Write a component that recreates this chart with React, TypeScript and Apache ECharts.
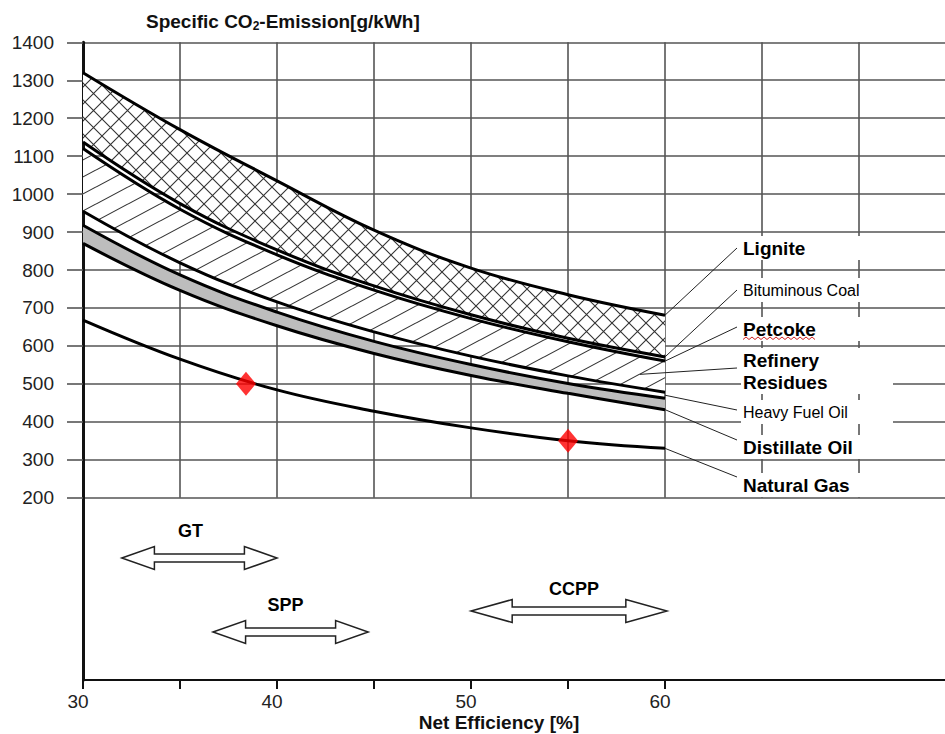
import React, { useEffect, useRef } from "react";
import * as echarts from "echarts";

// ---------- data ----------
const efficiency = [30, 35, 40, 45, 50, 55, 60];
const ligniteTop = [1320, 1170, 1035, 905, 805, 735, 681];
const coalTop = [1137, 975, 853, 758, 682, 620, 571];
const coalBottom = [1120, 960, 840, 747, 672, 611, 560];
const residueBottom = [955, 819, 716, 637, 573, 521, 478];
const oilTop = [918, 787, 689, 612, 551, 501, 462];
const oilBottom = [870, 746, 653, 580, 522, 475, 432];
const naturalGas = [668, 565, 484, 428, 384, 350, 330];

const markerEfficiency = [38.4, 55];
const markerEmission = [500, 350];

const xLabelValues = [30, 40, 50, 60];
const xTickValues = [30, 35, 40, 45, 50, 55, 60];

const fuelNames = [
  "Lignite",
  "Bituminous Coal",
  "Petcoke",
  "Refinery\nResidues",
  "Heavy Fuel Oil",
  "Distillate Oil",
  "Natural Gas",
];
const fuelPointEfficiency = [60, 60, 60, 58.7, 60, 60, 60];
const fuelPointEmission = [681, 571, 560, 525, 470, 432, 330];

const plantNames = ["GT", "SPP", "CCPP"];
const plantFrom = [32, 36.7, 50];
const plantTo = [40, 44.7, 60.1];

// ---------- layout / style ----------
const FONT = '"Liberation Sans", Arial, Helvetica, sans-serif';
const GRID_COLOR = "#555";
const SMOOTH = 0.4;
const fuelLabelLayout = [
  { y: 248, leadY: 248, bold: true },
  { y: 290, leadY: 290, bold: false },
  { y: 329, leadY: 327, bold: true },
  { y: 371, leadY: 368, bold: true },
  { y: 412, leadY: 410, bold: false },
  { y: 447, leadY: 440, bold: true },
  { y: 485, leadY: 477, bold: true },
];
const plantLayout = [
  { dy: 60.3, ldx: -9, ldy: -27 },
  { dy: 134.3, ldx: -5, ldy: -27 },
  { dy: 113.3, ldx: 5, ldy: -22 },
];

const pairs = (ys: number[]) => efficiency.map((x, i) => [x, ys[i]]);
// stacked series keep the emission in dimension 0 so that ECharts stacks along y
const swapped = (ys: number[]) => efficiency.map((x, i) => [ys[i], x]);
const swappedDiff = (a: number[], b: number[]) => efficiency.map((x, i) => [a[i] - b[i], x]);

function crossHatch() {
  const s = 17;
  const c = document.createElement("canvas");
  c.width = s;
  c.height = s;
  const ctx = c.getContext("2d")!;
  ctx.fillStyle = "#fff";
  ctx.fillRect(0, 0, s, s);
  ctx.strokeStyle = "#333";
  ctx.lineWidth = 1.1;
  ctx.beginPath();
  ctx.moveTo(-2, -2);
  ctx.lineTo(s + 2, s + 2);
  ctx.moveTo(s + 2, -2);
  ctx.lineTo(-2, s + 2);
  ctx.stroke();
  return { image: c, repeat: "repeat", imageWidth: s, imageHeight: s };
}

function diagHatch() {
  const w = 32;
  const h = 17;
  const c = document.createElement("canvas");
  c.width = w;
  c.height = h;
  const ctx = c.getContext("2d")!;
  ctx.fillStyle = "#fff";
  ctx.fillRect(0, 0, w, h);
  ctx.strokeStyle = "#333";
  ctx.lineWidth = 1.1;
  ctx.beginPath();
  const k = h / w;
  for (const off of [-h, 0, h]) {
    ctx.moveTo(-4, h + 4 * k + off);
    ctx.lineTo(w + 4, -4 * k + off);
  }
  ctx.stroke();
  return { image: c, repeat: "repeat", imageWidth: w, imageHeight: h };
}

const curveLine = (name: string, ys: number[]) => ({
  name,
  type: "line",
  xAxisIndex: 0,
  yAxisIndex: 0,
  data: pairs(ys),
  smooth: SMOOTH,
  showSymbol: false,
  symbol: "none",
  z: 4,
  lineStyle: { color: "#000", width: 3 },
  silent: true,
});

const stackBase = (name: string, stack: string, ys: number[]) => ({
  name,
  type: "line",
  stack,
  xAxisIndex: 0,
  yAxisIndex: 0,
  encode: { x: 1, y: 0 },
  data: swapped(ys),
  smooth: SMOOTH,
  showSymbol: false,
  symbol: "none",
  z: 2,
  lineStyle: { width: 0, opacity: 0 },
  silent: true,
});

const stackFill = (name: string, stack: string, top: number[], bottom: number[], color: any) => ({
  name,
  type: "line",
  stack,
  xAxisIndex: 0,
  yAxisIndex: 0,
  encode: { x: 1, y: 0 },
  data: swappedDiff(top, bottom),
  smooth: SMOOTH,
  showSymbol: false,
  symbol: "none",
  z: 2,
  lineStyle: { width: 0, opacity: 0 },
  areaStyle: { color, opacity: 1 },
  silent: true,
});

export default function App() {
  const ref = useRef<HTMLDivElement>(null);

  useEffect(() => {
    if (!ref.current) return;
    const chart = echarts.init(ref.current, null, { renderer: "svg" });

    const option: any = {
      animation: false,
      backgroundColor: "#fff",
      title: {
        left: 141,
        top: 5,
        text: "{a|Specific CO}{s|2}{a|-Emission[g/kWh]}",
        textStyle: {
          rich: {
            a: { fontSize: 19, fontWeight: "bold", fontFamily: FONT, color: "#111" },
            s: { fontSize: 12, fontWeight: "bold", fontFamily: FONT, color: "#111", padding: [10, 0, 0, 0] },
          },
        },
      },
      grid: [
        { left: 83, top: 42.3, right: 0, height: 455.4 },
        { left: 83, top: 497.7, right: 0, height: 182.3 },
      ],
      xAxis: [
        {
          gridIndex: 0,
          type: "value",
          min: 30,
          max: 74.43,
          interval: 5,
          axisLine: { show: false },
          axisTick: { show: false },
          axisLabel: { show: false },
          splitLine: { show: true, showMaxLine: false, lineStyle: { color: GRID_COLOR, width: 1.6 } },
        },
        {
          gridIndex: 1,
          type: "value",
          min: 30,
          max: 74.43,
          interval: 5,
          axisLine: { show: true, onZero: false, lineStyle: { color: "#111", width: 2 } },
          axisTick: { show: true, customValues: xTickValues, length: 9, lineStyle: { color: "#111", width: 2 } },
          axisLabel: {
            show: true,
            customValues: xLabelValues,
            fontSize: 19,
            fontFamily: FONT,
            color: "#222",
            margin: 12,
            padding: [0, 10, 0, 0],
            formatter: (v: number) => String(v),
          },
          splitLine: { show: false },
          name: "Net Efficiency [%]",
          nameLocation: "middle",
          nameGap: 33,
          nameTextStyle: {
            fontSize: 19,
            fontWeight: "bold",
            fontFamily: FONT,
            color: "#111",
            padding: [0, 30, 0, 0],
          },
        },
      ],
      yAxis: [
        {
          gridIndex: 0,
          type: "value",
          min: 200,
          max: 1400,
          interval: 100,
          axisLine: { show: true, onZero: false, lineStyle: { color: "#111", width: 3 } },
          axisTick: { show: true, length: 16, lineStyle: { color: GRID_COLOR, width: 1.6 } },
          axisLabel: {
            fontSize: 19,
            fontFamily: FONT,
            color: "#222",
            margin: 29,
            formatter: (v: number) => String(v),
          },
          splitLine: { show: true, lineStyle: { color: GRID_COLOR, width: 1.6 } },
        },
        {
          gridIndex: 1,
          type: "value",
          min: 0,
          max: 1,
          axisLine: { show: true, onZero: false, lineStyle: { color: "#111", width: 3 } },
          axisTick: { show: false },
          axisLabel: { show: false },
          splitLine: { show: false },
        },
      ],
      series: [
        stackBase("ligniteBase", "lignite", coalTop),
        stackFill("ligniteFill", "lignite", ligniteTop, coalTop, crossHatch()),
        stackBase("residueBase", "residue", residueBottom),
        stackFill("residueFill", "residue", coalBottom, residueBottom, diagHatch()),
        stackBase("oilBase", "oil", oilBottom),
        stackFill("oilFill", "oil", oilTop, oilBottom, "#bdbdbd"),
        curveLine("Lignite upper", ligniteTop),
        curveLine("Coal upper", coalTop),
        curveLine("Coal lower", coalBottom),
        curveLine("Residues lower", residueBottom),
        curveLine("Oil upper", oilTop),
        curveLine("Oil lower", oilBottom),
        curveLine("Natural Gas", naturalGas),
        {
          name: "markers",
          type: "scatter",
          xAxisIndex: 0,
          yAxisIndex: 0,
          data: markerEfficiency.map((x, i) => [x, markerEmission[i]]),
          symbol: "diamond",
          symbolSize: [20, 24],
          itemStyle: { color: "#ff0000" },
          z: 6,
          silent: true,
        },
        {
          name: "fuelLabels",
          type: "custom",
          xAxisIndex: 0,
          yAxisIndex: 0,
          z: 8,
          silent: true,
          clip: false,
          data: fuelNames.map((n, i) => ({ name: n, value: [fuelPointEfficiency[i], fuelPointEmission[i]] })),
          renderItem: (params: any, api: any) => {
            const i = params.dataIndex;
            const p = api.coord([api.value(0), api.value(1)]);
            const L = fuelLabelLayout[i];
            const children: any[] = [
              {
                type: "line",
                shape: { x1: p[0], y1: p[1], x2: 737, y2: L.leadY },
                style: { stroke: "#222", lineWidth: 1 },
              },
              {
                type: "text",
                style: {
                  text: fuelNames[i],
                  x: 741,
                  y: L.y,
                  align: "left",
                  verticalAlign: "middle",
                  fontSize: L.bold ? 19 : 16,
                  fontWeight: L.bold ? "bold" : "normal",
                  fontFamily: FONT,
                  fill: "#000",
                  backgroundColor: "#fff",
                  padding: [1, 2, 1, 2],
                  width: 148,
                  lineHeight: 22,
                },
              },
            ];
            if (i === 2) {
              const pts: number[][] = [];
              for (let k = 0; k <= 24; k++) pts.push([743 + k * 3, k % 2 ? 337 : 339.5]);
              children.push({
                type: "polyline",
                shape: { points: pts },
                style: { stroke: "#d02020", lineWidth: 1, fill: "none" },
              });
            }
            return { type: "group", children };
          },
        },
        {
          name: "plantTypes",
          type: "custom",
          xAxisIndex: 1,
          yAxisIndex: 1,
          z: 8,
          silent: true,
          clip: false,
          data: plantNames.map((n, i) => ({ name: n, value: [plantFrom[i], plantTo[i]] })),
          renderItem: (params: any, api: any) => {
            const i = params.dataIndex;
            const a = api.coord([api.value(0), 0])[0];
            const b = api.coord([api.value(1), 0])[0];
            const cs = params.coordSys;
            const L = plantLayout[i];
            const cy = cs.y + L.dy;
            const head = (b - a) * 0.21;
            const hh = 11.5;
            const sh = 4;
            const points = [
              [a, cy],
              [a + head, cy - hh],
              [a + head, cy - sh],
              [b - head, cy - sh],
              [b - head, cy - hh],
              [b, cy],
              [b - head, cy + hh],
              [b - head, cy + sh],
              [a + head, cy + sh],
              [a + head, cy + hh],
            ];
            return {
              type: "group",
              children: [
                {
                  type: "polygon",
                  shape: { points },
                  style: { fill: "#fff", stroke: "#222", lineWidth: 1.5 },
                },
                {
                  type: "text",
                  style: {
                    text: plantNames[i],
                    x: (a + b) / 2 + L.ldx,
                    y: cy + L.ldy,
                    align: "center",
                    verticalAlign: "middle",
                    fontSize: 18,
                    fontWeight: "bold",
                    fontFamily: FONT,
                    fill: "#000",
                  },
                },
              ],
            };
          },
        },
      ],
    };

    chart.setOption(option);
    return () => chart.dispose();
  }, []);

  return (
    <div
      ref={ref}
      style={{ position: "absolute", left: 0, top: 0, width: 945, height: 734, background: "#fff" }}
    />
  );
}
